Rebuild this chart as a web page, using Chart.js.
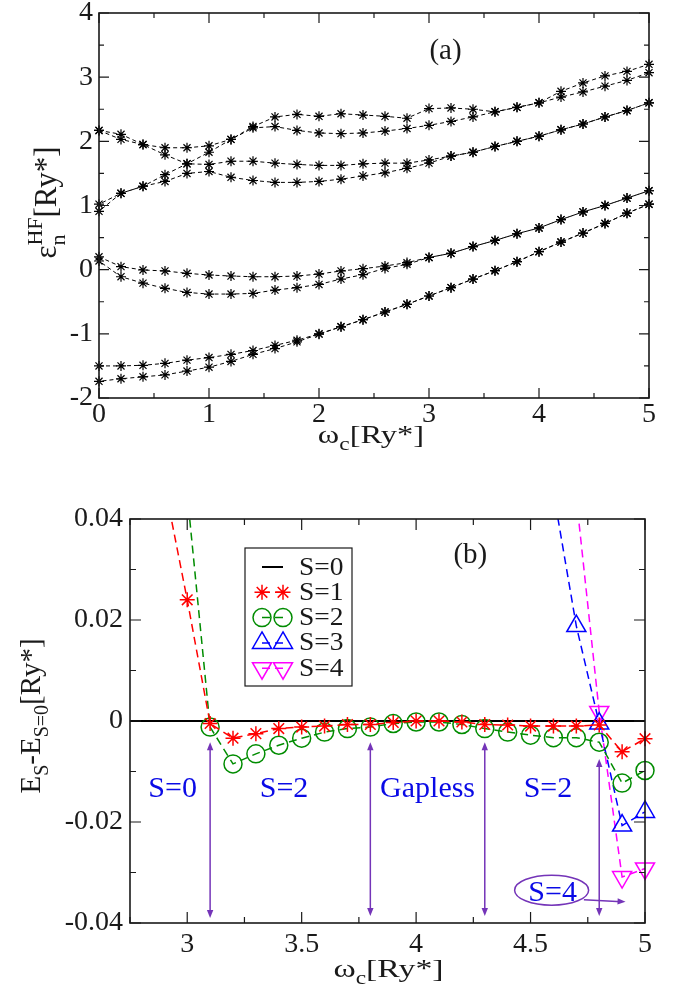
<!DOCTYPE html>
<html>
<head>
<meta charset="utf-8">
<script src="https://cdn.jsdelivr.net/npm/chart.js@4.4.1/dist/chart.umd.min.js"></script>
<style>
  body { margin: 0; background: #fff; }
  #wrap { position: relative; width: 677px; height: 994px; }
  canvas { position: absolute; left: 0; }
  #chartA { top: 0; }
  #chartB { top: 470px; }
  #probe { position: absolute; left: -1000px; top: 0; font-family: "Liberation Serif"; font-size: 20px; }
</style>
</head>
<body>
<div id="wrap">
  <canvas id="chartA" width="677" height="470"></canvas>
  <canvas id="chartB" width="677" height="524"></canvas>
</div>
<div id="probe">ωεE 0123</div>
<script>
const serif = '"Liberation Serif", "Times New Roman", Times, "DejaVu Serif", serif';
const ink = '#1a1a1a';

// ---- panel (a): HF levels against omega_c ----
const omegaA = [0, 0.2, 0.4, 0.6, 0.8, 1.0, 1.2, 1.4, 1.6, 1.8, 2.0, 2.2, 2.4, 2.6, 2.8, 3.0, 3.2, 3.4, 3.6, 3.8, 4.0, 4.2, 4.4, 4.6, 4.8, 5.0];
const level1 = [2.17, 2.11, 1.95, 1.90, 1.90, 1.93, 2.03, 2.23, 2.38, 2.42, 2.39, 2.43, 2.41, 2.39, 2.36, 2.51, 2.52, 2.50, 2.46, 2.53, 2.60, 2.78, 2.91, 3.02, 3.09, 3.20];
const level2 = [1.02, 1.19, 1.30, 1.48, 1.65, 1.83, 2.03, 2.21, 2.23, 2.17, 2.13, 2.12, 2.13, 2.16, 2.20, 2.25, 2.31, 2.38, 2.46, 2.53, 2.60, 2.69, 2.77, 2.86, 2.95, 3.07];
const level3 = [2.17, 2.03, 1.95, 1.79, 1.65, 1.64, 1.69, 1.69, 1.66, 1.64, 1.625, 1.625, 1.65, 1.66, 1.66, 1.71, 1.77, 1.83, 1.92, 2.00, 2.08, 2.18, 2.27, 2.38, 2.48, 2.60];
const level4 = [0.91, 1.19, 1.30, 1.375, 1.50, 1.53, 1.44, 1.39, 1.36, 1.36, 1.375, 1.41, 1.46, 1.51, 1.58, 1.66, 1.77, 1.83, 1.92, 2.00, 2.08, 2.18, 2.27, 2.38, 2.48, 2.60];
const level5 = [0.20, 0.047, -0.005, -0.02, -0.057, -0.083, -0.099, -0.11, -0.11, -0.099, -0.068, -0.02, 0.015, 0.057, 0.11, 0.19, 0.255, 0.36, 0.455, 0.56, 0.65, 0.78, 0.90, 1.00, 1.115, 1.23];
const level6 = [0.135, -0.11, -0.21, -0.29, -0.355, -0.38, -0.38, -0.37, -0.318, -0.28, -0.23, -0.146, -0.078, 0.02, 0.083, 0.19, 0.255, 0.36, 0.455, 0.56, 0.65, 0.78, 0.90, 1.00, 1.115, 1.23];
const level7 = [-1.50, -1.50, -1.49, -1.46, -1.41, -1.37, -1.32, -1.26, -1.18, -1.10, -1.00, -0.89, -0.78, -0.66, -0.54, -0.41, -0.28, -0.146, -0.016, 0.125, 0.28, 0.43, 0.57, 0.72, 0.88, 1.02];
const level8 = [-1.74, -1.70, -1.67, -1.64, -1.58, -1.52, -1.43, -1.32, -1.23, -1.125, -1.005, -0.89, -0.78, -0.66, -0.54, -0.41, -0.28, -0.146, -0.016, 0.125, 0.28, 0.43, 0.57, 0.72, 0.88, 1.02];
const levelsA = [level1, level2, level3, level4, level5, level6, level7, level8];

const xTicksA = [0, 1, 2, 3, 4, 5];
const xLabelsA = ['0', '1', '2', '3', '4', '5'];
const xMinorA = [0.5, 1.5, 2.5, 3.5, 4.5];
const yTicksA = [-2, -1, 0, 1, 2, 3, 4];
const yLabelsA = ['-2', '-1', '0', '1', '2', '3', '4'];
const yMinorA = [-1.5, -0.5, 0.5, 1.5, 2.5, 3.5];

// ---- panel (b): E_S - E_S=0 against omega_c ----
const omegaS0 = [2.7, 5.0];
const gapS0 = [0, 0];
const omegaS1 = [2.9, 3.0, 3.1, 3.2, 3.3, 3.4, 3.5, 3.6, 3.7, 3.8, 3.9, 4.0, 4.1, 4.2, 4.3, 4.4, 4.5, 4.6, 4.7, 4.8, 4.9, 5.0];
const gapS1 = [0.047, 0.024, -0.0005, -0.0034, -0.0025, -0.0015, -0.0012, -0.001, -0.0007, -0.0007, -0.0003, 0, 0, -0.0002, -0.0007, -0.0008, -0.001, -0.001, -0.001, -0.0008, -0.0061, -0.0035];
const omegaS2 = [3.0, 3.1, 3.2, 3.3, 3.4, 3.5, 3.6, 3.7, 3.8, 3.9, 4.0, 4.1, 4.2, 4.3, 4.4, 4.5, 4.6, 4.7, 4.8, 4.9, 5.0];
const gapS2 = [0.045, -0.0012, -0.0085, -0.0065, -0.0048, -0.0034, -0.0022, -0.0015, -0.0012, -0.0005, -0.0002, -0.0002, -0.0007, -0.0015, -0.0022, -0.0028, -0.0033, -0.0033, -0.0042, -0.0123, -0.0098];
const omegaS3 = [4.6, 4.7, 4.8, 4.9, 5.0];
const gapS3 = [0.0453, 0.0188, -0.0005, -0.0207, -0.018];
const omegaS4 = [4.7, 4.8, 4.9, 5.0];
const gapS4 = [0.0442, 0.0018, -0.0309, -0.0292];

const xTicksB = [3, 3.5, 4, 4.5, 5];
const xLabelsB = ['3', '3.5', '4', '4.5', '5'];
const xMinorB = [2.75, 3.25, 3.75, 4.25, 4.75];
const yTicksB = [-0.04, -0.02, 0, 0.02, 0.04];
const yLabelsB = ['-0.04', '-0.02', '0', '0.02', '0.04'];
const yMinorB = [-0.03, -0.01, 0.01, 0.03];

// annotations of panel (b), in data coordinates
const arrowsB = [[3.1, -0.0042, -0.0390], [3.8, -0.0042, -0.0386], [4.3, -0.0042, -0.0386], [4.8, -0.0075, -0.0386]];
const phaseLabels = [['S=0', 2.936], ['S=2', 3.423], ['Gapless', 4.05], ['S=2', 4.576]];

const pts = (xs, ys) => xs.map((x, i) => ({ x: x, y: ys[i] }));

// draw a title with sub/superscripts, centred on (x, y); sx widens the glyphs
function drawRich(ctx, parts, x, y, size, angle, sx) {
  const big = size + 'px ' + serif;
  const small = Math.round(size * 0.7) + 'px ' + serif;
  ctx.save();
  ctx.translate(x, y);
  if (angle) { ctx.rotate(angle); ctx.scale(1, sx || 1); }
  else ctx.scale(sx || 1, 1);
  const widths = parts.map(p => {
    if (p.t) { ctx.font = big; return ctx.measureText(p.t).width; }
    ctx.font = small;
    return Math.max(p.sub ? ctx.measureText(p.sub).width : 0, p.sup ? ctx.measureText(p.sup).width : 0);
  });
  let cx = -widths.reduce((a, b) => a + b, 0) / 2;
  ctx.textAlign = 'left';
  ctx.textBaseline = 'alphabetic';
  parts.forEach((p, i) => {
    if (p.t) { ctx.font = big; ctx.fillText(p.t, cx, 0); }
    else {
      ctx.font = small;
      if (p.sub) ctx.fillText(p.sub, cx, size * 0.28);
      if (p.sup) ctx.fillText(p.sup, cx, -size * 0.45);
    }
    cx += widths[i];
  });
  ctx.restore();
}

// box around the plot with inward ticks on all four sides
const frame = {
  id: 'frame',
  afterDraw(chart, args, o) {
    const { ctx, chartArea: a } = chart;
    const x = chart.scales.x, y = chart.scales.y;
    ctx.save();
    ctx.strokeStyle = ink;
    ctx.lineWidth = 1.2;
    ctx.beginPath();
    const tx = (vals, len) => vals.forEach(v => {
      const p = x.getPixelForValue(v);
      ctx.moveTo(p, a.bottom); ctx.lineTo(p, a.bottom - len);
      ctx.moveTo(p, a.top); ctx.lineTo(p, a.top + len);
    });
    const ty = (vals, len) => vals.forEach(v => {
      const p = y.getPixelForValue(v);
      ctx.moveTo(a.left, p); ctx.lineTo(a.left + len, p);
      ctx.moveTo(a.right, p); ctx.lineTo(a.right - len, p);
    });
    tx(o.xMajor, o.major); tx(o.xMinor, o.minor);
    ty(o.yMajor, o.major); ty(o.yMinor, o.minor);
    ctx.stroke();
    ctx.lineWidth = 1.6;
    ctx.strokeRect(a.left, a.top, a.right - a.left, a.bottom - a.top);
    ctx.restore();
  }
};

const titles = {
  id: 'titles',
  afterDraw(chart, args, o) {
    const { ctx, chartArea: a } = chart;
    ctx.save();
    ctx.fillStyle = ink;
    drawRich(ctx, o.x, (a.left + a.right) / 2 + o.xShift, a.bottom + o.xDrop, o.xSize, 0, 1.3);
    drawRich(ctx, o.y, o.yBase, (a.top + a.bottom) / 2 + o.yShift, o.ySize, -Math.PI / 2, 1);
    ctx.font = o.tagSize + 'px ' + serif;
    ctx.textAlign = 'center';
    ctx.textBaseline = 'middle';
    ctx.fillText(o.tag, chart.scales.x.getPixelForValue(o.tagAt[0]), chart.scales.y.getPixelForValue(o.tagAt[1]));
    ctx.restore();
  }
};

function head(ctx, x, y, dx, dy) {
  const L = 8, W = 3.2;
  ctx.beginPath();
  ctx.moveTo(x, y);
  ctx.lineTo(x - dx * L - dy * W, y - dy * L + dx * W);
  ctx.lineTo(x - dx * L + dy * W, y - dy * L - dx * W);
  ctx.closePath();
  ctx.fill();
}

// arrows, phase labels, the S=4 note and the legend of panel (b)
const notes = {
  id: 'notes',
  afterDraw(chart) {
    const { ctx } = chart;
    const x = chart.scales.x, y = chart.scales.y;
    const purple = '#7434b8';
    ctx.save();
    ctx.strokeStyle = purple;
    ctx.fillStyle = purple;
    ctx.lineWidth = 1.5;
    arrowsB.forEach(([v, y1, y2]) => {
      const px = x.getPixelForValue(v), top = y.getPixelForValue(y1), bot = y.getPixelForValue(y2);
      ctx.beginPath(); ctx.moveTo(px, top + 3); ctx.lineTo(px, bot - 3); ctx.stroke();
      head(ctx, px, top, 0, -1);
      head(ctx, px, bot, 0, 1);
    });
    // S=4 ellipse and pointer
    const ex = x.getPixelForValue(4.592), ey = y.getPixelForValue(-0.0335);
    ctx.beginPath(); ctx.ellipse(ex, ey, 37, 15, 0, 0, Math.PI * 2); ctx.stroke();
    const ax0 = x.getPixelForValue(4.733), ay0 = y.getPixelForValue(-0.0354);
    const ax1 = x.getPixelForValue(4.915), ay1 = y.getPixelForValue(-0.0358);
    ctx.beginPath(); ctx.moveTo(ax0, ay0); ctx.lineTo(ax1 - 4, ay1); ctx.stroke();
    const d = Math.hypot(ax1 - ax0, ay1 - ay0);
    head(ctx, ax1, ay1, (ax1 - ax0) / d, (ay1 - ay0) / d);

    ctx.fillStyle = '#0a0ae6';
    ctx.font = '30px ' + serif;
    ctx.textAlign = 'center';
    ctx.textBaseline = 'alphabetic';
    phaseLabels.forEach(([t, v]) => ctx.fillText(t, x.getPixelForValue(v), y.getPixelForValue(-0.0151)));
    ctx.fillText('S=4', ex + 1, ey + 11);

    // legend with two markers per entry
    ctx.fillStyle = '#fff';
    ctx.fillRect(245, 78, 107, 138);
    ctx.strokeStyle = ink;
    ctx.lineWidth = 1.2;
    ctx.strokeRect(245, 78, 107, 138);
    chart.data.datasets.forEach((ds, i) => {
      const ry = 97 + i * 25.3;
      ctx.save();
      ctx.strokeStyle = ds.borderColor;
      ctx.lineWidth = ds.borderWidth;
      ctx.setLineDash(ds.borderDash || []);
      ctx.beginPath(); ctx.moveTo(262, ry); ctx.lineTo(283, ry); ctx.stroke();
      ctx.setLineDash([]);
      if (ds.pointRadius > 0) {
        ctx.fillStyle = 'rgba(0,0,0,0)';
        ctx.lineWidth = ds.pointBorderWidth;
        [262, 283].forEach(mx => Chart.helpers.drawPoint(ctx, {
          pointStyle: ds.pointStyle, radius: ds.pointRadius, rotation: ds.pointRotation || 0, borderWidth: ds.pointBorderWidth
        }, mx, ry));
      }
      ctx.restore();
      ctx.save();
      ctx.fillStyle = ink;
      ctx.font = '25px ' + serif;
      ctx.textAlign = 'left';
      ctx.textBaseline = 'middle';
      ctx.translate(299, ry + 1);
      ctx.scale(1.1, 1);
      ctx.fillText(ds.label, 0, 0);
      ctx.restore();
    });
    ctx.restore();
  }
};

function axis(min, max, ticks, labels, size, pad, isX) {
  return {
    type: 'linear', min: min, max: max,
    grid: { display: false, drawTicks: false },
    border: { display: false },
    afterBuildTicks: s => { s.ticks = ticks.map(v => ({ value: v })); },
    afterFit: s => {
      if (isX) { s.height = size; s.paddingLeft = 0; s.paddingRight = 0; }
      else { s.width = size; s.paddingTop = 0; s.paddingBottom = 0; }
    },
    ticks: {
      autoSkip: false, maxRotation: 0, padding: pad, color: ink,
      font: { family: serif, size: 28 },
      callback: (v, i) => labels[i]
    }
  };
}

function build() {
  // ---- chart (a) ----
  new Chart(document.getElementById('chartA'), {
    type: 'line',
    data: {
      datasets: levelsA.map((vals, i) => ({
        data: pts(omegaA, vals),
        borderColor: '#000', borderWidth: 1, borderDash: [4, 3], borderDashOffset: (i % 2) * 3.5,
        pointStyle: 'star', pointRadius: 5, pointBorderWidth: 1.2, pointBorderColor: '#000',
        pointBackgroundColor: '#000', tension: 0, clip: false
      }))
    },
    options: {
      responsive: false, animation: false,
      layout: { padding: { left: 0, right: 28, top: 13, bottom: 0 } },
      plugins: {
        legend: { display: false }, tooltip: { enabled: false },
        frame: { xMajor: xTicksA, xMinor: xMinorA, yMajor: yTicksA, yMinor: yMinorA, major: 10, minor: 5 },
        titles: {
          xSize: 25, ySize: 31, tagSize: 29, tag: '(a)', tagAt: [3.15, 3.4],
          x: [{ t: 'ω' }, { sub: 'c' }, { t: '[Ry*]' }], xShift: -3, xDrop: 45,
          y: [{ t: 'ε' }, { sub: 'n', sup: 'HF' }, { t: '[Ry*]' }], yBase: 56, yShift: -3
        }
      },
      scales: {
        x: axis(0, 5, xTicksA, xLabelsA, 72, 0, true),
        y: axis(-2, 4, yTicksA, yLabelsA, 99, 6, false)
      }
    },
    plugins: [frame, titles]
  });

  // ---- chart (b) ----
  const clipB = { left: 0, top: 0, right: 16, bottom: 16 };
  new Chart(document.getElementById('chartB'), {
    type: 'line',
    data: {
      datasets: [
        { label: 'S=0', data: pts(omegaS0, gapS0), borderColor: '#000', borderWidth: 2, pointRadius: 0, order: 5, clip: clipB },
        { label: 'S=1', data: pts(omegaS1, gapS1), borderColor: '#ff0000', borderWidth: 1.5, borderDash: [8, 5],
          pointStyle: 'star', pointRadius: 7.5, pointBorderWidth: 1.5, pointBorderColor: '#ff0000', pointBackgroundColor: 'rgba(0,0,0,0)', order: 1, clip: clipB },
        { label: 'S=2', data: pts(omegaS2, gapS2), borderColor: '#008c00', borderWidth: 1.5, borderDash: [8, 5],
          pointStyle: 'circle', pointRadius: 9, pointBorderWidth: 1.5, pointBorderColor: '#008c00', pointBackgroundColor: 'rgba(0,0,0,0)', order: 2, clip: clipB },
        { label: 'S=3', data: pts(omegaS3, gapS3), borderColor: '#0000ff', borderWidth: 1.5, borderDash: [8, 5],
          pointStyle: 'triangle', pointRadius: 11, pointBorderWidth: 1.5, pointBorderColor: '#0000ff', pointBackgroundColor: 'rgba(0,0,0,0)', order: 3, clip: clipB },
        { label: 'S=4', data: pts(omegaS4, gapS4), borderColor: '#ff00ff', borderWidth: 1.5, borderDash: [8, 5],
          pointStyle: 'triangle', pointRotation: 180, pointRadius: 11, pointBorderWidth: 1.5, pointBorderColor: '#ff00ff', pointBackgroundColor: 'rgba(0,0,0,0)', order: 4, clip: clipB }
      ]
    },
    options: {
      responsive: false, animation: false,
      layout: { padding: { left: 0, right: 32, top: 49, bottom: 0 } },
      plugins: {
        legend: { display: false }, tooltip: { enabled: false },
        frame: { xMajor: xTicksB, xMinor: xMinorB, yMajor: yTicksB, yMinor: yMinorB, major: 11, minor: 6 },
        titles: {
          xSize: 26, ySize: 29, tagSize: 29, tag: '(b)', tagAt: [4.237, 0.0328],
          x: [{ t: 'ω' }, { sub: 'c' }, { t: '[Ry*]' }], xShift: 1, xDrop: 54,
          y: [{ t: 'E' }, { sub: 'S' }, { t: '-E' }, { sub: 'S=0' }, { t: '[Ry*]' }], yBase: 40, yShift: -5
        }
      },
      scales: {
        x: axis(2.75, 5, xTicksB, xLabelsB, 71, 5, true),
        y: axis(-0.04, 0.04, yTicksB, yLabelsB, 130, 7, false)
      }
    },
    plugins: [frame, titles, notes]
  });
}

if (document.fonts && document.fonts.load) {
  Promise.all([document.fonts.load('27px "Liberation Serif"'), document.fonts.ready])
    .then(build, build);
} else {
  build();
}
</script>
</body>
</html>
